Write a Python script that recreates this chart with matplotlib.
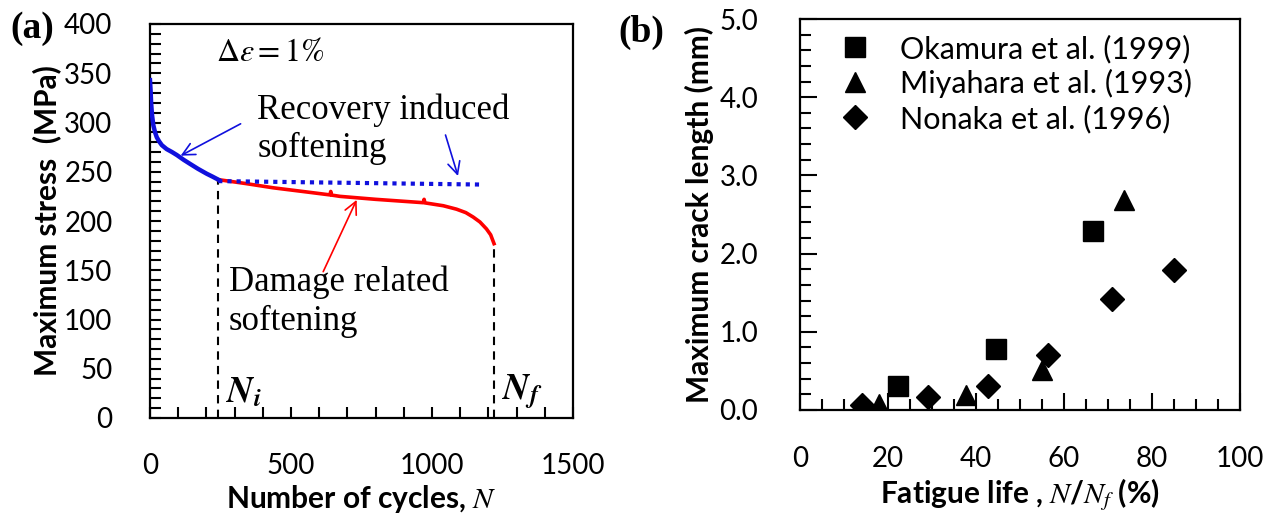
import numpy as np
import matplotlib
matplotlib.use("Agg")
from matplotlib import pyplot as plt
from matplotlib.ticker import MultipleLocator, FormatStrFormatter

plt.rcParams['font.family'] = ['Lato', 'DejaVu Sans']
plt.rcParams['mathtext.fontset'] = 'stix'

# (a) cyclic softening curve, max stress vs cycles
blue_N = [0, 2, 4, 7, 12, 18, 24, 32, 42, 59, 78, 95, 120, 142, 170, 201, 222, 242]
blue_S = [343, 333, 320, 308, 297, 290, 285, 281, 277, 273, 270, 267, 262, 258, 253, 248, 245, 242]
red_N = [242, 340, 437, 555, 638, 641, 644, 674, 800, 969, 972, 975, 1040, 1087, 1120, 1146, 1170, 1193, 1208, 1220]
red_S = [242, 238, 233.7, 229.5, 226.5, 230, 226.3, 225, 222, 218.6, 222, 218.4, 215.5, 212, 208.5, 204, 199, 192, 186, 177]
recovery_N = [242, 1176]
recovery_S = [240.5, 237]
N_i = 242
N_f = 1220

# (b) maximum crack length vs fatigue life fraction
okamura_x = [22.3, 44.6, 66.7]
okamura_y = [0.31, 0.78, 2.29]
miyahara_x = [18.0, 37.8, 54.9, 73.6]
miyahara_y = [0.08, 0.19, 0.51, 2.69]
nonaka_x = [14.0, 29.0, 42.8, 56.4, 70.9, 85.1]
nonaka_y = [0.07, 0.16, 0.31, 0.70, 1.42, 1.79]

fig = plt.figure(figsize=(12.68, 5.17), dpi=100)
ax1 = fig.add_axes([150/1268, 1-418/517, 423/1268, 394/517])
ax2 = fig.add_axes([800/1268, 1-410/517, 440/1268, 391/517])

for ax in (ax1, ax2):
    for sp in ax.spines.values():
        sp.set_linewidth(1.6)

# ---- panel (a)
ax1.plot(red_N, red_S, color='#ff0000', lw=2.6, zorder=3)
ax1.plot(blue_N, blue_S, color='#1010dd', lw=3.2, zorder=4)
ax1.plot(recovery_N, recovery_S, color='#1010dd', lw=3, ls=(0, (1, 1.2)), zorder=3)
ax1.plot([N_i, N_i], [0, blue_S[-1]], color='k', lw=1.5, ls=(0, (4, 3)))
ax1.plot([N_f, N_f], [0, red_S[-1]], color='k', lw=1.5, ls=(0, (4, 3)))

ax1.set_xlim(0, 1500)
ax1.set_ylim(0, 400)
ax1.xaxis.set_major_locator(MultipleLocator(500))
ax1.xaxis.set_minor_locator(MultipleLocator(100))
ax1.yaxis.set_major_locator(MultipleLocator(50))
ax1.yaxis.set_minor_locator(MultipleLocator(10))
ax1.tick_params(which='both', direction='in', top=False, right=False, width=1.5, length=8)
ax1.tick_params(axis='x', which='major', pad=25, labelsize=20)
ax1.tick_params(axis='y', which='major', pad=27, labelsize=20)
ax1.set_xlabel('Number of cycles, $N$', fontsize=21.5, fontweight='bold', labelpad=3)
ax1.set_ylabel('Maximum stress  (MPa)', fontsize=21.5, fontweight='bold', labelpad=2)

ax1.text(0.155, 0.93, r'$\Delta\varepsilon = 1\%$', transform=ax1.transAxes, fontsize=23, va='center')
ax1.text(380, 293, 'Recovery induced\nsoftening', fontsize=25, family='Liberation Serif',
         va='center', linespacing=1.2)
ax1.text(280, 118, 'Damage related\nsoftening', fontsize=25, family='Liberation Serif',
         va='center', linespacing=1.25)
ax1.annotate('', xy=(100, 265), xytext=(330, 300),
             arrowprops=dict(arrowstyle='->', color='#1010dd', lw=1.2, mutation_scale=22))
ax1.annotate('', xy=(1095, 243), xytext=(1045, 290),
             arrowprops=dict(arrowstyle='->', color='#1010dd', lw=1.2, mutation_scale=22))
ax1.annotate('', xy=(737, 224), xytext=(610, 146),
             arrowprops=dict(arrowstyle='->', color='#ff0000', lw=1.2, mutation_scale=22))
ax1.text(N_i + 28, 26, r'$\mathbfit{N}_{\mathbfit{i}}$', fontsize=26, va='center')
ax1.text(N_f + 28, 26, r'$\mathbfit{N}_{\mathbfit{f}}$', fontsize=26, va='center')

fig.text(10/1268, 1-28/517, '(a)', fontsize=27, fontweight='bold', family='Liberation Serif', va='center')
fig.text(618/1268, 1-32/517, '(b)', fontsize=27, fontweight='bold', family='Liberation Serif', va='center')

# ---- panel (b)
ax2.plot(okamura_x, okamura_y, 's', color='k', ms=14, label='Okamura et al. (1999)', zorder=3)
ax2.plot(miyahara_x, miyahara_y, '^', color='k', ms=14.5, label='Miyahara et al. (1993)', zorder=3)
ax2.plot(nonaka_x, nonaka_y, 'D', color='k', ms=12.5, label='Nonaka et al. (1996)', zorder=3)
ax2.set_xlim(0, 100)
ax2.set_ylim(0, 5)
ax2.xaxis.set_major_locator(MultipleLocator(20))
ax2.xaxis.set_minor_locator(MultipleLocator(5))
ax2.yaxis.set_major_locator(MultipleLocator(1))
ax2.yaxis.set_minor_locator(MultipleLocator(0.2))
ax2.yaxis.set_major_formatter(FormatStrFormatter('%.1f'))
ax2.tick_params(which='both', direction='in', top=False, right=False, width=1.5)
ax2.tick_params(which='major', length=12)
ax2.tick_params(which='minor', length=8)
ax2.tick_params(axis='x', which='major', pad=26, labelsize=20)
ax2.tick_params(axis='y', which='major', pad=30, labelsize=20)
ax2.set_xlabel('Fatigue life , $N$/$N_f$ (%)', fontsize=21.5, fontweight='bold', labelpad=3)
ax2.set_ylabel('Maximum crack length (mm)', fontsize=21.5, fontweight='bold', labelpad=4)
ax2.legend(loc='upper left', frameon=False, fontsize=22, handletextpad=0.5,
           labelspacing=0.2, borderaxespad=0.1, bbox_to_anchor=(0.02, 1.0))

fig.savefig('out.png', dpi=100)
